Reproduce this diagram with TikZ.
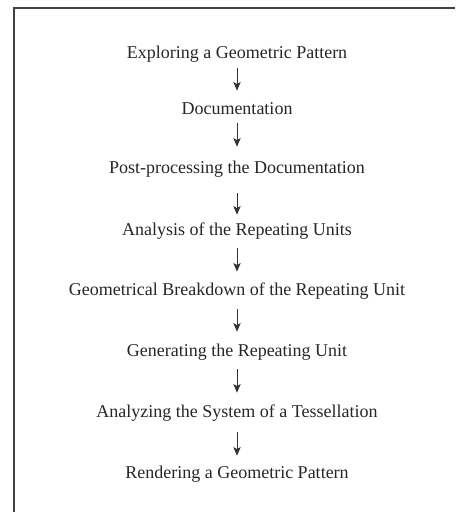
\documentclass[tikz,border=0pt]{standalone}
\usepackage{fontspec}
\setmainfont{Liberation Serif}
\usepackage{tikz}
\usetikzlibrary{positioning,arrows.meta}

\begin{document}
\begin{tikzpicture}[x=0.75pt, y=-0.75pt, on grid,
	stage/.style={inner sep=0pt, text height=10pt, text depth=3pt, text=black!85, font=\fontsize{13.5}{16}\selectfont},
	flow/.style={draw=black!80, line width=0.75pt, -{Stealth[length=6.5pt, width=5.5pt, inset=1.5pt]}, shorten <=7.5pt, shorten >=7.5pt},
	frame/.style={draw=black!75, line width=1.2pt}]
	\useasboundingbox (0,0) rectangle (455,512);
	\draw[frame] (14,512) |- (455,8);
	
	\node[stage, anchor=base](e1) at (237,58){Exploring a Geometric Pattern};
	\node[stage, below=42pt of e1](e2){Documentation};
	\node[stage, below=44.25pt of e2](e3){Post-processing the Documentation};
	\node[stage, below=46.5pt of e3](e4){Analysis of the Repeating Units};
	\node[stage, below=45pt of e4](e5){Geometrical Breakdown of the Repeating Unit};
	\node[stage, below=45.75pt of e5](e6){Generating the Repeating Unit};
	\node[stage, below=45.75pt of e6](e7){Analyzing the System of a Tessellation};
	\node[stage, below=45.75pt of e7](e8){Rendering a Geometric Pattern};
	
	\draw[flow, shorten <=4.5pt, shorten >=7.3pt] (e1) -- (e2);
	\draw[flow, shorten <=3.75pt, shorten >=9.5pt] (e2) -- (e3);
	\draw[flow, shorten <=12pt, shorten >=5pt] (e3) -- (e4);
	\draw[flow, shorten <=6.75pt, shorten >=7.3pt] (e4) -- (e5);
	\draw[flow, shorten >=8pt] (e5) -- (e6);
	\draw[flow, shorten <=6.75pt, shorten >=8pt] (e6) -- (e7);
	\draw[flow, shorten <=8.25pt, shorten >=6.5pt] (e7) -- (e8);
\end{tikzpicture}
\end{document}
